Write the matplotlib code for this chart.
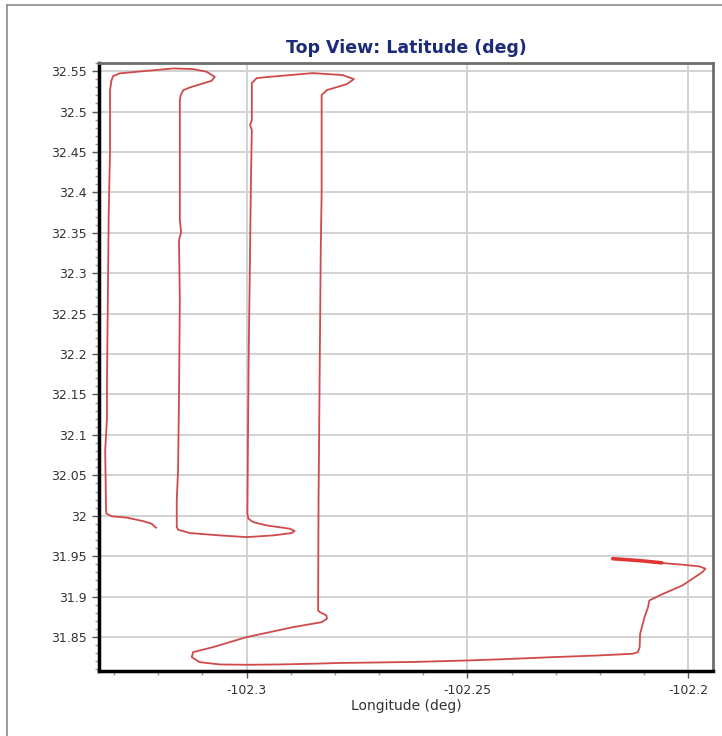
"""Top view GPS track: latitude vs longitude."""
import numpy as np
import matplotlib
matplotlib.use("Agg")
import matplotlib.pyplot as plt
from matplotlib.ticker import MultipleLocator, FormatStrFormatter
from matplotlib.lines import Line2D

# track (lon, lat)
lon = [-102.3205, -102.3215, -102.3235, -102.3271, -102.3305, -102.3317, -102.3318,
       -102.3319, -102.3320, -102.3316, -102.3316, -102.3314, -102.3312, -102.3309, -102.3309, -102.3306,
       -102.3302, -102.3287, -102.3166, -102.3121, -102.3090, -102.3072, -102.3079, -102.3098,
       -102.3128, -102.3143, -102.3149, -102.3151,
       -102.3151, -102.3148, -102.3153, -102.3151, -102.3153, -102.3155, -102.3158, -102.3158,
       -102.3155, -102.3128, -102.3060, -102.3000, -102.2940, -102.2898, -102.2891, -102.2902,
       -102.2955, -102.2985, -102.2996, -102.2998,
       -102.2997, -102.2995, -102.2992, -102.2990, -102.2988, -102.2992, -102.2988, -102.2988,
       -102.2977, -102.2954, -102.2850, -102.2782, -102.2757, -102.2773, -102.2818, -102.2830,
       -102.2830, -102.2830, -102.2832, -102.2834, -102.2836, -102.2837, -102.2838,
       -102.2834, -102.2819, -102.2818, -102.2830, -102.2895, -102.3000, -102.3076, -102.3121,
       -102.3124, -102.3106, -102.3060, -102.3000, -102.2925, -102.2850, -102.2793, -102.2621,
       -102.2502, -102.2413, -102.2309, -102.2205, -102.2126, -102.2114, -102.2110, -102.2109,
       -102.2103, -102.2099, -102.2091, -102.2088, -102.2065, -102.2013, -102.1968, -102.1961,
       -102.1975, -102.2013, -102.2058]
lat = [31.9853, 31.9902, 31.9935, 31.9977, 31.9993, 32.0026, 32.0067,
       32.0438, 32.0809, 32.1200, 32.1676, 32.2666, 32.3743, 32.4522, 32.5265, 32.5380,
       32.5438, 32.5472, 32.5533, 32.5525, 32.5491, 32.5429, 32.5380, 32.5348,
       32.5298, 32.5265, 32.5203, 32.5141,
       32.3656, 32.3507, 32.3408, 32.2666, 32.1428, 32.0562, 32.0191, 31.9860,
       31.9828, 31.9786, 31.9757, 31.9736, 31.9757, 31.9786, 31.9811, 31.9840,
       31.9881, 31.9922, 31.9964, 32.0026,
       32.0809, 32.2047, 32.3285, 32.4151, 32.4770, 32.4832, 32.4894, 32.5351,
       32.5413, 32.5426, 32.5475, 32.5450, 32.5401, 32.5339, 32.5265, 32.5203,
       32.5141, 32.3990, 32.3285, 32.2047, 32.0809, 32.0191, 31.8829,
       31.8808, 31.8767, 31.8726, 31.8684, 31.8622, 31.8499, 31.8375, 31.8313,
       31.8251, 31.8189, 31.8161, 31.8157, 31.8161, 31.8170, 31.8179, 31.8192,
       31.8210, 31.8227, 31.8251, 31.8272, 31.8293, 31.8313, 31.8375, 31.8541,
       31.8664, 31.8746, 31.8870, 31.8953, 31.9015, 31.9139, 31.9303, 31.9345,
       31.9374, 31.9395, 31.9415]

# stationary part at the end (overlapping passes)
park_lon = [-102.2171, -102.2110, -102.2060]
park_lat = [31.9469, 31.9445, 31.9418]

fig = plt.figure(figsize=(7.22, 7.36), dpi=100)
ax = fig.add_axes([99 / 722, 65 / 736, 614 / 722, 608 / 736])

ax.plot(lon, lat, color="#cf4a4a", lw=1.3, solid_joinstyle="round")
ax.plot(park_lon, park_lat, color="#e03535", lw=2.6, solid_capstyle="round")

ax.set_xlim(-102.3334, -102.1944)
ax.set_ylim(31.808, 32.560)
ax.xaxis.set_major_locator(MultipleLocator(0.05))
ax.xaxis.set_minor_locator(MultipleLocator(0.01))
ax.yaxis.set_major_locator(MultipleLocator(0.05))
ax.yaxis.set_minor_locator(MultipleLocator(0.01))
ax.xaxis.set_major_formatter(FormatStrFormatter("%g"))
ax.yaxis.set_major_formatter(FormatStrFormatter("%g"))

ax.grid(True, which="major", color="#d2d2d2", lw=1.4)
ax.set_axisbelow(True)
ax.tick_params(which="major", length=5, width=1, color="#555555", labelsize=9,
               labelcolor="#333333", pad=4)
ax.tick_params(which="minor", length=3, width=1, color="#999999")

for s in ("left", "bottom"):
    ax.spines[s].set_color("black")
    ax.spines[s].set_linewidth(2.5)
for s in ("top", "right"):
    ax.spines[s].set_color("#6e6e6e")
    ax.spines[s].set_linewidth(2)

ax.set_title("Top View: Latitude (deg)", fontsize=12.5, fontweight="bold",
             color="#1c2a78", pad=7)
ax.set_xlabel("Longitude (deg)", fontsize=10, color="#333333", labelpad=2)

# outer panel border (left and top edges visible)
fig.add_artist(Line2D([7 / 722, 7 / 722], [0, 1 - 5 / 736], transform=fig.transFigure,
                      color="#8a8a8a", lw=1.2))
fig.add_artist(Line2D([7 / 722, 1], [1 - 5 / 736, 1 - 5 / 736], transform=fig.transFigure,
                      color="#8a8a8a", lw=1.2))

fig.savefig("out.png", dpi=100)
